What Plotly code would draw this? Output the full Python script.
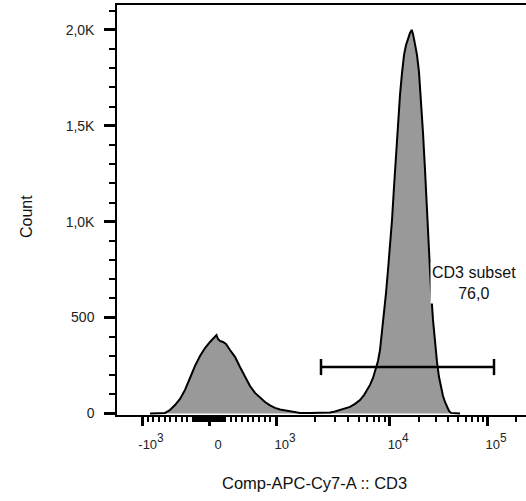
import math
import plotly.graph_objects as go

# ---------------- data ----------------
# histogram: display channel (FlowJo-like 0..1024 display scale) vs event count
channel = [82.5, 107.5, 120, 132.5, 145, 157.5, 170, 182.5, 195, 207.5, 220, 232.5, 240, 245,
           248.75, 252.5, 257.5, 265, 272.5, 282.5, 295, 307.5, 320, 332.5, 345, 357.5, 370,
           382.5, 395, 407.5, 420, 432.5, 445, 457.5, 482.5, 507.5, 532.5, 545, 557.5, 570,
           582.5, 595, 607.5, 617.5, 625, 632.5, 640, 647.5, 652.5, 657.5, 662.5, 667.5, 672.5,
           677.5, 682.5, 687.5, 692.5, 697.5, 702.5, 707.5, 712.5, 717.5, 722.5, 727.5, 732.5,
           736.75, 740, 745, 750, 755, 760, 765, 770, 775, 780, 785, 790, 795, 800, 805, 810,
           815, 820, 825, 830, 835, 845, 857.5]
count = [0, 2, 3, 18, 44, 76, 123, 185, 248, 300, 341, 373, 388, 399,
         409, 388, 378, 373, 362, 331, 295, 242, 190, 143, 107, 81, 60,
         42, 29, 21, 16, 10, 5, 3, 3, 3, 5, 10, 18, 23,
         34, 50, 70, 96, 123, 149, 185, 232, 274, 331, 420, 524, 628,
         748, 868, 1008, 1181, 1358, 1530, 1661, 1775, 1869, 1921, 1958, 1984,
         2000, 1979, 1926, 1869, 1780, 1635, 1463, 1270, 1035, 853, 644, 488, 368, 269, 190, 138,
         91, 60, 34, 13, 3, 0, 0]

y_tickvals = [0, 500, 1000, 1500, 2000]
y_ticktext = ["0", "500", "1,0K", "1,5K", "2,0K"]

x_major_vals = [-1000, 0, 1000, 10000, 100000]
x_major_base = ["-10", "0", "10", "10", "10"]
x_major_exp = ["3", "", "3", "4", "5"]
x_minor_vals = ([-m * 10 for m in range(1, 10)] + [m * 10 for m in range(1, 10)] +
                [-m * 100 for m in range(1, 10)] + [m * 100 for m in range(1, 10)] +
                [m * 1000 for m in range(2, 10)] + [m * 10000 for m in range(2, 10)] + [200000])

gate_channels = [510, 942.5]
gate_level = 242
gate_label = "CD3 subset<br>76,0"
gate_label_pos = (892.5, 680)

x_title = "Comp-APC-Cy7-A :: CD3"
y_title = "Count"


# biexponential-like display transform: value -> display channel
def to_channel(v):
    u = abs(v)
    if u <= 100:
        f = 16.0 * u / 100.0
    elif u <= 1000:
        f = 16.0 + 51.0 * (u - 100.0) / 900.0
    else:
        f = 67.0 + 96.6 * math.log10((u - 350.0) / 650.0)
    return 230.0 + 2.5 * (f if v >= 0 else -f)


def tick_label(base, exp):
    if not exp:
        return base
    return base + "<span style='font-size:17px'><sup>" + exp + "</sup></span>"


FONT = "Liberation Sans, Arial, Helvetica, sans-serif"

fig = go.Figure()
fig.add_trace(go.Scatter(
    x=channel, y=count, mode="lines", fill="tozeroy",
    fillcolor="#999999", line=dict(color="black", width=2),
    hoverinfo="skip", showlegend=False))

g0, g1 = gate_channels
h = 42
fig.add_trace(go.Scatter(
    x=[g0, g0, None, g0, g1, None, g1, g1],
    y=[gate_level - h, gate_level + h, None, gate_level, gate_level, None,
       gate_level - h, gate_level + h],
    mode="lines", line=dict(color="black", width=2.5),
    hoverinfo="skip", showlegend=False))

fig.add_annotation(x=gate_label_pos[0], y=gate_label_pos[1], xref="x", yref="y",
                   text=gate_label, showarrow=False, align="center",
                   xanchor="center", yanchor="middle", bgcolor="white", borderpad=1,
                   font=dict(family=FONT, size=16, color="#111"))

fig.add_annotation(x=0.484, y=-0.166, xref="paper", yref="paper", text=x_title,
                   showarrow=False, xanchor="center", yanchor="middle",
                   font=dict(family=FONT, size=16.5, color="#111"))
fig.add_annotation(x=-0.22, y=0.483, xref="paper", yref="paper", text=y_title,
                   showarrow=False, xanchor="center", yanchor="middle", textangle=-90,
                   font=dict(family=FONT, size=16, color="#111"))

fig.update_layout(
    width=526, height=501,
    margin=dict(l=117, r=0, t=5, b=86, autoexpand=False),
    paper_bgcolor="white", plot_bgcolor="white",
    xaxis=dict(
        range=[0, 1022.5], showgrid=False, zeroline=False, automargin=False,
        showline=True, linecolor="black", linewidth=1.5, mirror=True,
        tickmode="array", tickvals=[to_channel(v) for v in x_major_vals],
        ticktext=[tick_label(b, e) for b, e in zip(x_major_base, x_major_exp)],
        ticks="outside", ticklen=9, tickwidth=2.5, tickcolor="black",
        ticklabelshift=9, ticklabelstandoff=8,
        tickfont=dict(family=FONT, size=13, color="#222"),
        minor=dict(tickmode="array", tickvals=[to_channel(v) for v in x_minor_vals],
                   ticks="outside", ticklen=5, tickwidth=1.5, tickcolor="black"),
    ),
    yaxis=dict(
        range=[-8, 2130], showgrid=False, zeroline=False, automargin=False,
        showline=True, linecolor="black", linewidth=1.5,
        tickmode="array", tickvals=y_tickvals, ticktext=y_ticktext,
        ticks="outside", ticklen=11, tickwidth=2.5, tickcolor="black",
        ticklabelstandoff=7,
        tickfont=dict(family=FONT, size=14, color="#222"),
        minor=dict(dtick=100, tick0=0, ticks="outside", ticklen=6, tickwidth=1.5,
                   tickcolor="black"),
    ),
)

fig.write_html("out.html",
               config={"displayModeBar": False},
               post_script="document.body.style.margin='0';"
                           "document.body.style.overflow='hidden';")
